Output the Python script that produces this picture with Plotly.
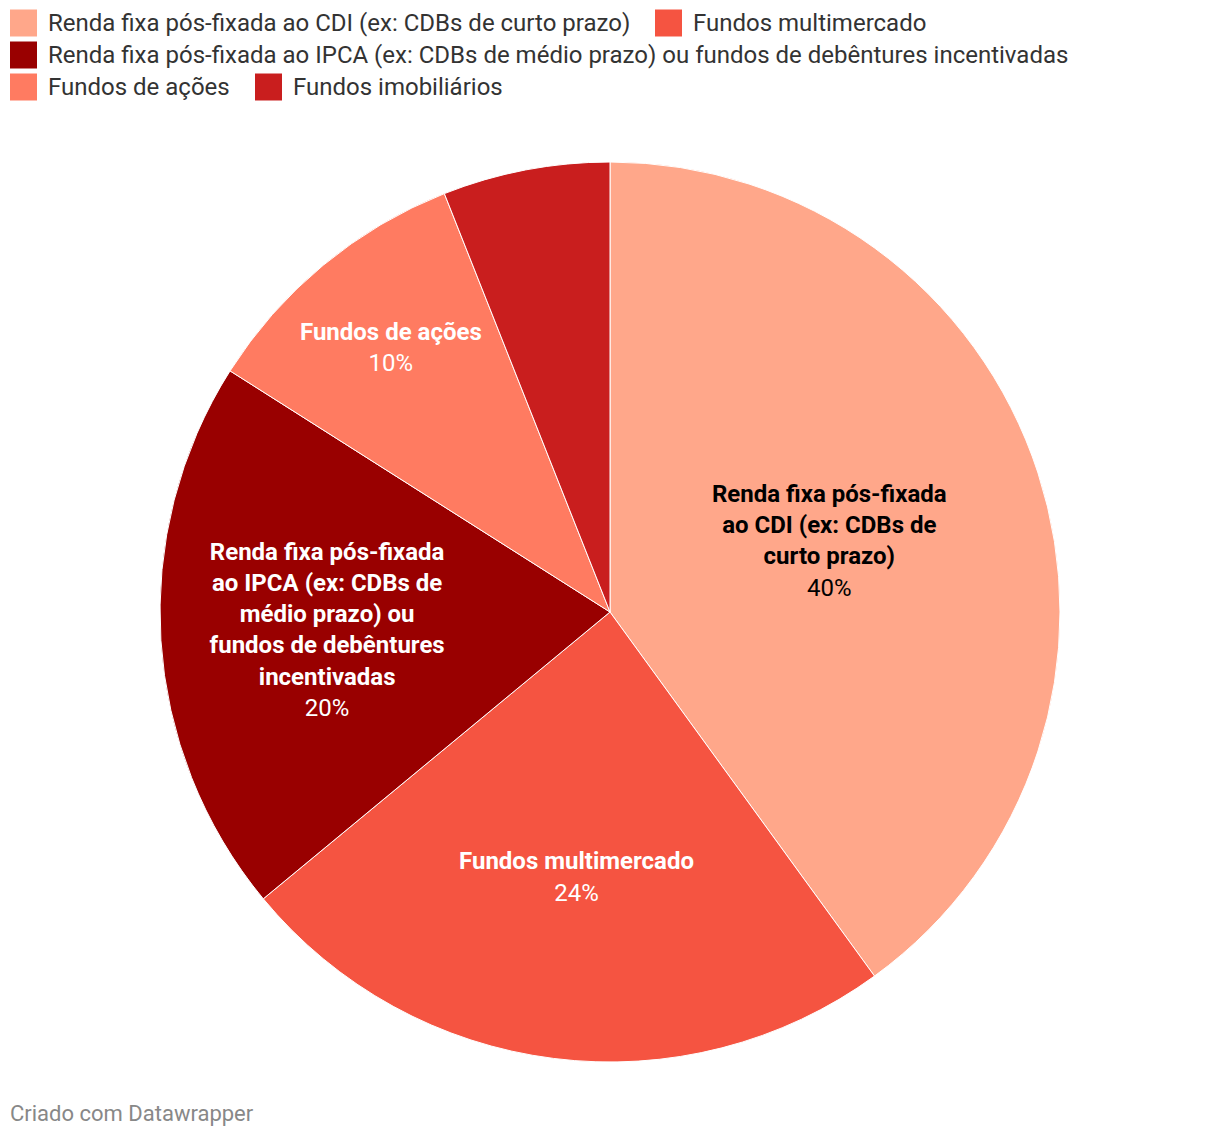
import textwrap
import plotly.graph_objects as go

categories = [
    "Renda fixa pós-fixada ao CDI (ex: CDBs de curto prazo)",
    "Fundos multimercado",
    "Renda fixa pós-fixada ao IPCA (ex: CDBs de médio prazo) ou fundos de debêntures incentivadas",
    "Fundos de ações",
    "Fundos imobiliários",
]
values = [40, 24, 20, 10, 6]
colors = ["#ffa78a", "#f55441", "#990000", "#ff7b61", "#c91e1e"]
label_colors = ["#000000", "#ffffff", "#ffffff", "#ffffff", "#ffffff"]

W, H = 1220, 1138
FONT = "Roboto, 'Noto Sans', sans-serif"

texts = []
for c, v in zip(categories, values):
    if v < 8:
        texts.append("")
    else:
        wrapped = "<br>".join(textwrap.wrap(c, 21))
        texts.append(f"<b>{wrapped}</b><br>{v}%")

fig = go.Figure()
fig.add_trace(go.Pie(
    labels=categories,
    values=values,
    text=texts,
    texttemplate="%{text}",
    textposition="inside",
    insidetextorientation="horizontal",
    insidetextfont=dict(family=FONT, size=24, color=label_colors),
    marker=dict(colors=colors, line=dict(color="#ffffff", width=1)),
    sort=False,
    direction="clockwise",
    rotation=0,
    showlegend=False,
    hoverinfo="label+percent",
    domain=dict(x=[160 / W, 1060 / W], y=[1 - 1062 / H, 1 - 162 / H]),
))

# Manual legend (rows as in the reference)
legend_rows = [[0, 1], [2], [3, 4]]
legend_x_starts = {0: 10, 1: 655, 2: 10, 3: 10, 4: 255}
shapes = []
annotations = []
for r, row in enumerate(legend_rows):
    yc = 23 + 32 * r
    for idx in row:
        x0 = legend_x_starts[idx]
        shapes.append(dict(type="rect", xref="paper", yref="paper",
                           x0=x0 / W, x1=(x0 + 27) / W,
                           y0=1 - (yc + 13.5) / H, y1=1 - (yc - 13.5) / H,
                           fillcolor=colors[idx], line=dict(width=0)))
        annotations.append(dict(text=categories[idx], xref="paper", yref="paper",
                                x=(x0 + 36) / W, y=1 - yc / H, xanchor="left", yanchor="middle",
                                showarrow=False, font=dict(family=FONT, size=24, color="#333333")))

annotations.append(dict(text="Criado com Datawrapper", xref="paper", yref="paper",
                        x=8 / W, y=1 - 1113 / H, xanchor="left", yanchor="middle",
                        showarrow=False, font=dict(family=FONT, size=22, color="#888888")))

fig.update_layout(
    width=W, height=H,
    margin=dict(l=0, r=0, t=0, b=0),
    paper_bgcolor="#ffffff",
    plot_bgcolor="#ffffff",
    shapes=shapes,
    annotations=annotations,
    font=dict(family=FONT),
)

fig.write_html("out.html", config={"displayModeBar": False},
               post_script="document.body.style.margin='0';")
